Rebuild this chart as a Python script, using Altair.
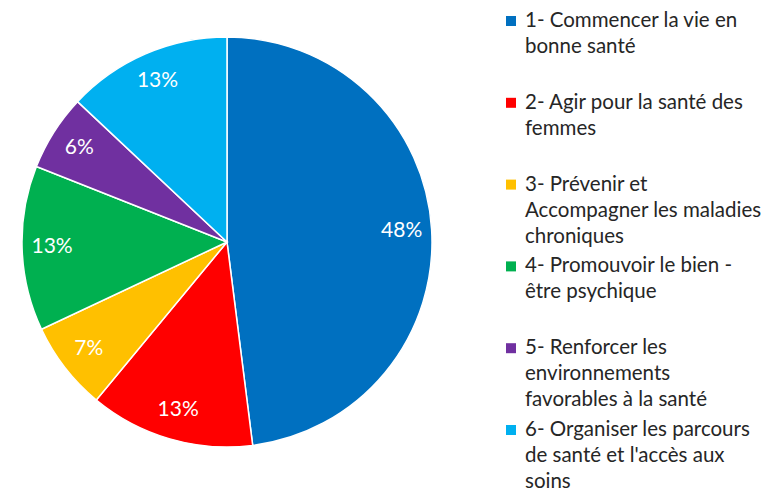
import altair as alt
import pandas as pd

idx = [0, 1, 2, 3, 4, 5]
values = [48, 13, 7, 13, 6, 13]
labels = ["48%", "13%", "7%", "13%", "6%", "13%"]
categories = [
    "1- Commencer la vie en|bonne santé",
    "2- Agir pour la santé des|femmes",
    "3- Prévenir et|Accompagner les maladies|chroniques",
    "4- Promouvoir le bien -|être psychique",
    "5- Renforcer les|environnements|favorables à la santé",
    "6- Organiser les parcours|de santé et l'accès aux|soins",
]
colors = ["#0070C0", "#FF0000", "#FFC000", "#00B050", "#7030A0", "#00B0F0"]

df = pd.DataFrame({"idx": idx, "value": values, "label": labels, "cat": categories})

FONT = "Lato"
color = alt.Color("cat:N", scale=alt.Scale(domain=categories, range=colors), legend=None)

base = alt.Chart(df)

pie = base.mark_arc(outerRadius=205, stroke="white", strokeWidth=1.5).encode(
    theta=alt.Theta("value:Q", stack=True),
    order=alt.Order("idx:Q"),
    color=color,
    x=alt.value(219),
    y=alt.value(234),
)

pie_text = base.mark_text(radius=175, font=FONT, fontSize=21, color="white").encode(
    theta=alt.Theta("value:Q", stack=True),
    order=alt.Order("idx:Q"),
    text="label:N",
    x=alt.value(219),
    y=alt.value(234),
)

yscale = alt.Scale(domain=[0, 5], range=[13, 422])

leg_sq = base.mark_square(size=100, opacity=1).encode(
    x=alt.value(503),
    y=alt.Y("idx:Q", scale=yscale, axis=None),
    color=color,
)

leg_txt = base.mark_text(
    align="left", baseline="top", dy=-10, font=FONT, fontSize=20.5,
    lineBreak="|", lineHeight=26, color="#262626",
).encode(
    x=alt.value(517),
    y=alt.Y("idx:Q", scale=yscale, axis=None),
    text="cat:N",
)

chart = alt.layer(pie, pie_text, leg_sq, leg_txt).properties(
    width=755, height=485, padding=0, autosize=alt.AutoSizeParams(type="none")
).configure_view(stroke=None)

chart.save("out.html", embed_options={"renderer": "svg", "actions": False})
